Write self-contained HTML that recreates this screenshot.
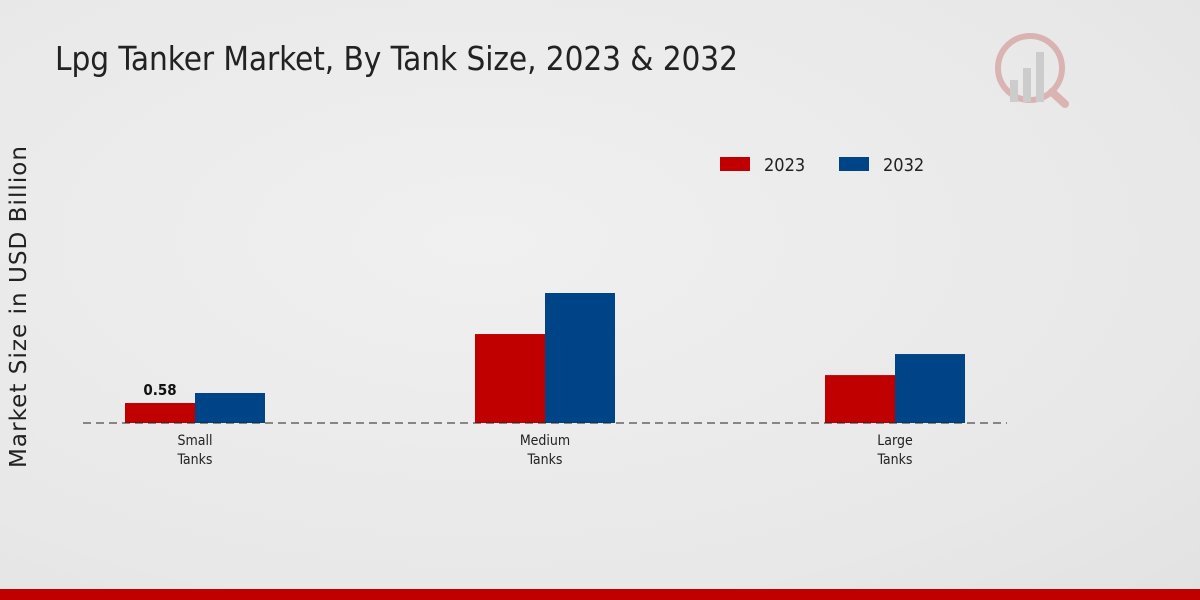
<!DOCTYPE html>
<html><head><meta charset="utf-8"><style>
body{margin:0;width:1200px;height:600px;overflow:hidden;font-family:"DejaVu Sans Condensed","DejaVu Sans","Liberation Sans",sans-serif;}
#bg{position:absolute;left:0;top:0;width:1200px;height:600px;background:radial-gradient(ellipse at 40% 40%,#f0f0f0 0%,#e8e8e8 70%,#e2e2e2 100%);}
</style></head><body>
<div id="bg"></div>
<svg id="c" width="1200" height="600" style="position:absolute;left:0;top:0">
<text x="55" y="70" font-size="33" fill="#222" textLength="683" font-family="DejaVu Sans Condensed, DejaVu Sans, sans-serif">Lpg Tanker Market, By Tank Size, 2023 &amp; 2032</text>
<text transform="translate(26,307) rotate(-90)" text-anchor="middle" font-size="23" textLength="322" fill="#222" font-family="DejaVu Sans, sans-serif">Market Size in USD Billion</text>
<g>
<rect x="720" y="157" width="30" height="14" fill="#c00000"/>
<text x="764" y="171" font-size="18" fill="#222">2023</text>
<rect x="839" y="157" width="30" height="14" fill="#004488"/>
<text x="883" y="171" font-size="18" fill="#222">2032</text>
</g>
<g opacity="0.35">
<circle cx="1030" cy="68" r="32" fill="none" stroke="#c05050" stroke-width="6"/>
<rect x="1010" y="80" width="8" height="22" fill="#999"/><rect x="1023" y="68" width="8" height="34" fill="#999"/><rect x="1036" y="52" width="8" height="50" fill="#999"/>
<line x1="1052" y1="92" x2="1065" y2="104" stroke="#c05050" stroke-width="8" stroke-linecap="round"/>
</g>
<g id="plot"></g>
<rect x="0" y="589" width="1200" height="11" fill="#c00000"/>
</svg>
<script>
const categories=["Small\nTanks","Medium\nTanks","Large\nTanks"];
const values2023=[0.58,2.58,1.39];
const values2032=[0.87,3.77,2.0];
const labels2023=["0.58",null,null];
const ns="http://www.w3.org/2000/svg";
const g=document.getElementById('plot');
const baseY=423, pxPer=20/0.58, x0=195, step=350, bw=70;
function y(v){return baseY-v*pxPer;}
function xc(i){return x0+i*step;}
function mk(t,a){const e=document.createElementNS(ns,t);for(const k in a)e.setAttribute(k,a[k]);g.appendChild(e);return e;}
categories.forEach((c,i)=>{
 const r1=mk('rect',{x:xc(i)-bw,y:y(values2023[i]),width:bw,height:baseY-y(values2023[i]),fill:'#c00000'});
 
 
 const r2=mk('rect',{x:xc(i),y:y(values2032[i]),width:bw,height:baseY-y(values2032[i]),fill:'#004488'});
 
 
 if(labels2023[i]){const t=mk('text',{x:xc(i)-bw/2,y:y(values2023[i])-8,'text-anchor':'middle','font-size':15,'font-weight':'bold',fill:'#111'});t.textContent=labels2023[i];
 
 }
 c.split('\n').forEach((ln,j)=>{const t=mk('text',{x:xc(i),y:445+j*19,'text-anchor':'middle','font-size':14,fill:'#222'});t.textContent=ln;
 
 });
});
const ax=mk('line',{x1:83,x2:1007,y1:baseY,y2:baseY,stroke:'#222','stroke-dasharray':'8,5','stroke-width':1});


</script>
</body></html>
